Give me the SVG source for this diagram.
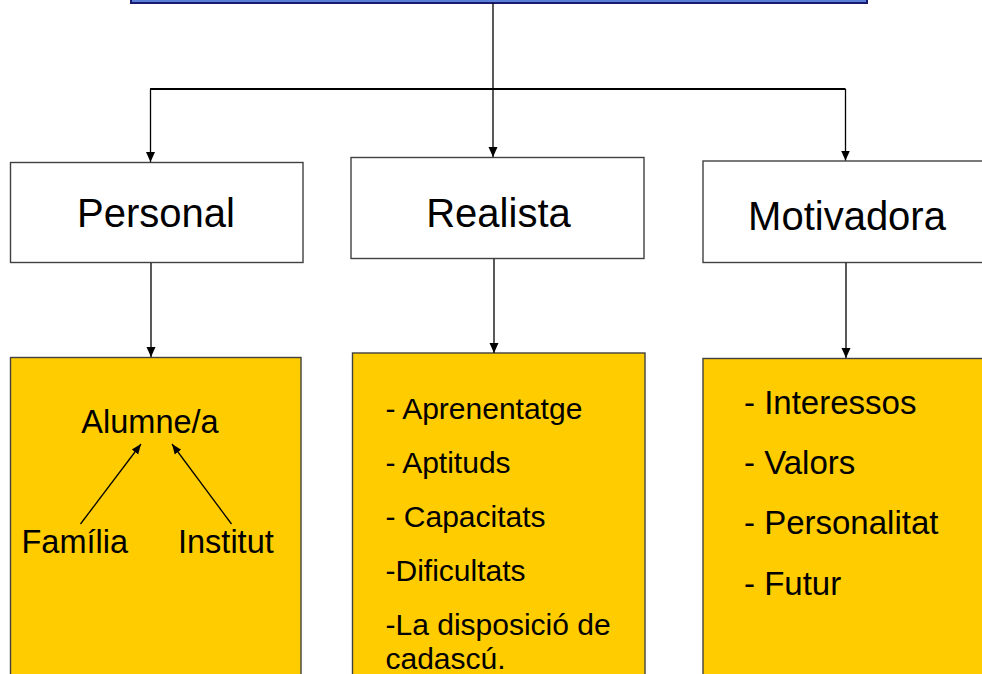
<svg xmlns="http://www.w3.org/2000/svg" width="982" height="674" viewBox="0 0 982 674">
<style>
.box{fill:#ffffff;stroke:#404040;stroke-width:1.4}
.ybox{fill:#ffcc00;stroke:#404040;stroke-width:1.4}
.title{font-family:"Liberation Sans",Arial,sans-serif;font-size:40px;fill:#000;text-anchor:middle}
.item{font-family:"Liberation Sans",Arial,sans-serif;fill:#000}
.conn{stroke:#000;stroke-width:1.3;fill:none}
</style>
<defs>
<marker id="arr" markerUnits="userSpaceOnUse" markerWidth="10" markerHeight="12" viewBox="0 0 10 12" refX="10" refY="6" orient="auto">
<path d="M0,1.5 L10,6 L0,10.5 Z" fill="#000"/>
</marker>
<marker id="arrs" markerUnits="userSpaceOnUse" markerWidth="10" markerHeight="10" viewBox="0 0 10 10" refX="10" refY="5" orient="auto">
<path d="M0,1 L10,5 L0,9 Z" fill="#000"/>
</marker>
</defs>
<rect width="982" height="674" fill="#ffffff"/>
<g id="top">
<rect x="131" y="-20" width="736" height="23" fill="#5a7fd8" stroke="#1a1a6e" stroke-width="2"/>
</g>
<g id="personal">
<rect class="box" x="10.5" y="162.5" width="292.5" height="100"/>
<text class="title" x="156" y="227">Personal</text>
</g>
<g id="realista">
<rect class="box" x="351" y="157.5" width="293" height="101"/>
<text class="title" x="498.5" y="226.5">Realista</text>
</g>
<g id="motivadora">
<rect class="box" x="703" y="161" width="300" height="101.5"/>
<text class="title" x="847" y="230">Motivadora</text>
</g>
<g id="personal-detail">
<rect class="ybox" x="10.5" y="357.5" width="290.5" height="340"/>
<text class="item" font-size="32.5" x="150" y="432.5" text-anchor="middle">Alumne/a</text>
<text class="item" font-size="32.5" x="21.5" y="553">Família</text>
<text class="item" font-size="32.5" x="178" y="553">Institut</text>
</g>
<g id="realista-detail">
<rect class="ybox" x="352.5" y="353" width="292.5" height="345"/>
<g class="item" font-size="30">
<text x="385.5" y="418.5">- Aprenentatge</text>
<text x="385.5" y="472.5">- Aptituds</text>
<text x="385.5" y="526.5">- Capacitats</text>
<text x="385.5" y="580.5">-Dificultats</text>
<text x="385.5" y="635">-La disposició de</text>
<text x="385.5" y="669">cadascú.</text>
</g>
</g>
<g id="motivadora-detail">
<rect class="ybox" x="703" y="358.5" width="300" height="340"/>
<g class="item" font-size="33">
<text x="744" y="413.5">- Interessos</text>
<text x="744" y="473.5">- Valors</text>
<text x="744" y="534">- Personalitat</text>
<text x="744" y="595">- Futur</text>
</g>
</g>
<g id="connectors">
<line class="conn" x1="493" y1="3" x2="493" y2="157" marker-end="url(#arr)"/>
<line x1="150" y1="89" x2="845.5" y2="89" stroke="#000" stroke-width="2.2"/>
<line class="conn" x1="150.5" y1="89" x2="150.5" y2="162" marker-end="url(#arr)"/>
<line class="conn" x1="845.5" y1="89" x2="845.5" y2="160.5" marker-end="url(#arr)"/>
<line class="conn" x1="151" y1="263" x2="151" y2="357" marker-end="url(#arr)"/>
<line class="conn" x1="494" y1="259" x2="494" y2="353" marker-end="url(#arr)"/>
<line class="conn" x1="846" y1="263" x2="846" y2="358" marker-end="url(#arr)"/>
<line class="conn" x1="80.5" y1="524" x2="141" y2="444" marker-end="url(#arrs)"/>
<line class="conn" x1="231.5" y1="524" x2="172" y2="444" marker-end="url(#arrs)"/>
</g>
</svg>
